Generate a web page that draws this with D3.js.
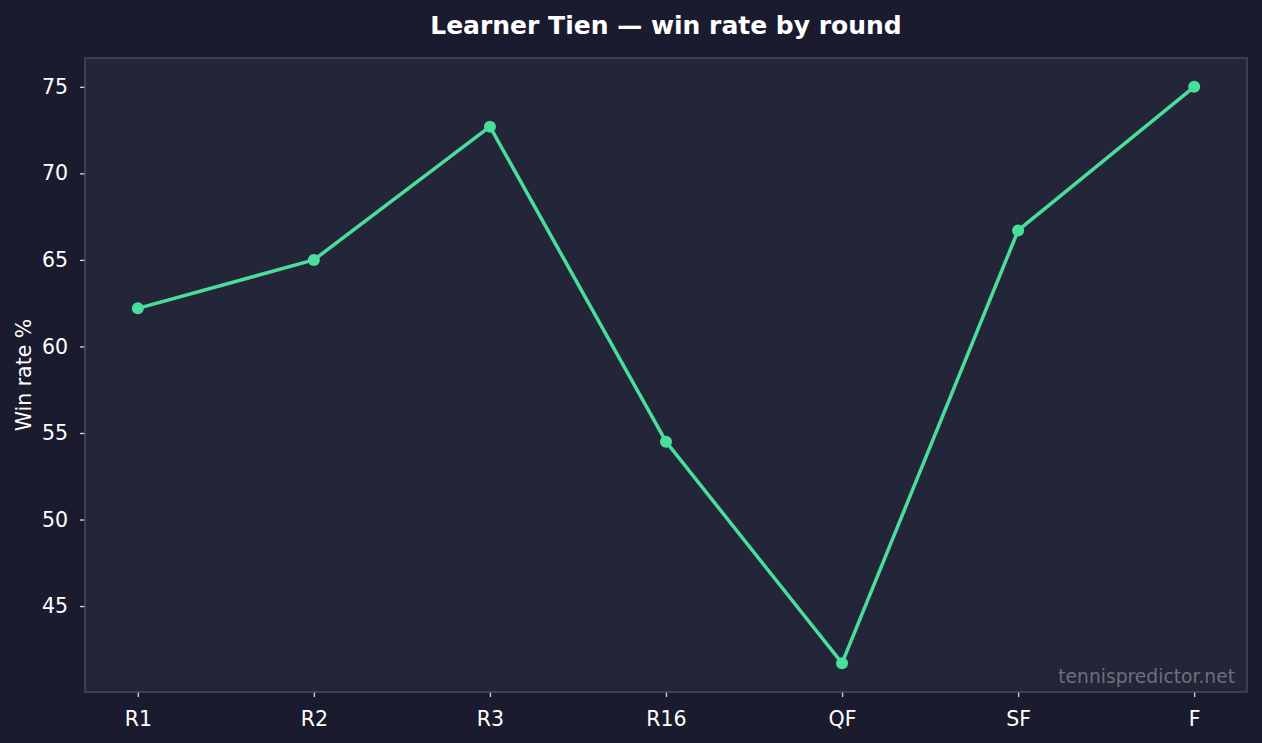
<!DOCTYPE html>
<html>
<head>
<meta charset="utf-8">
<script src="https://cdn.jsdelivr.net/npm/d3@7"></script>
<style>
  html, body { margin: 0; padding: 0; background: #1a1b2e; }
  svg { display: block; font-family: "DejaVu Sans", sans-serif; }
</style>
</head>
<body>
<div id="chart"></div>
<script>
var rounds = ['R1', 'R2', 'R3', 'R16', 'QF', 'SF', 'F'];
var winRate = [62.2, 65.0, 72.7, 54.5, 41.7, 66.7, 75.0];
var yTicks = [45, 50, 55, 60, 65, 70, 75];

var width = 1262, height = 743;
var margin = { top: 58, right: 15, bottom: 51, left: 85 };
var plotW = width - margin.left - margin.right;
var plotH = height - margin.top - margin.bottom;

var svg = d3.select('#chart').append('svg')
  .attr('width', width)
  .attr('height', height);

svg.append('rect')
  .attr('width', width).attr('height', height)
  .attr('fill', '#1a1b2e');

var g = svg.append('g')
  .attr('transform', 'translate(' + margin.left + ',' + margin.top + ')');

// matplotlib-ish 5% margins
var yMin = d3.min(winRate), yMax = d3.max(winRate);
var pad = (yMax - yMin) * 0.05;
var x = d3.scaleLinear().domain([-0.3, rounds.length - 1 + 0.3]).range([0, plotW]);
var y = d3.scaleLinear().domain([yMin - pad, yMax + pad]).range([plotH, 0]);

g.append('rect')
  .attr('width', plotW).attr('height', plotH)
  .attr('fill', '#232538');

var xAxis = g.append('g')
  .attr('transform', 'translate(0,' + plotH + ')')
  .call(d3.axisBottom(x).tickValues(d3.range(rounds.length))
    .tickFormat(function(i) { return rounds[i]; })
    .tickSize(5));

var yAxis = g.append('g')
  .call(d3.axisLeft(y).tickValues(yTicks).tickSize(5).tickPadding(12));

[xAxis, yAxis].forEach(function(a) {
  a.select('.domain').remove();
  a.selectAll('line').attr('stroke', '#d8d8e0').attr('stroke-width', 1.3);
  a.selectAll('text')
    .attr('fill', '#ffffff')
    .attr('font-size', '20.5px')
    .attr('font-family', '"DejaVu Sans", sans-serif');
});
xAxis.selectAll('text').attr('y', 34).attr('dy', 0);

g.append('rect')
  .attr('width', plotW).attr('height', plotH)
  .attr('fill', 'none')
  .attr('stroke', '#4a4a52')
  .attr('stroke-width', 1.5);

var line = d3.line()
  .x(function(d, i) { return x(i); })
  .y(function(d) { return y(d); });

g.append('path')
  .datum(winRate)
  .attr('d', line)
  .attr('fill', 'none')
  .attr('stroke', '#4ade9c')
  .attr('stroke-width', 3.5)
  .attr('stroke-linejoin', 'round');

g.selectAll('circle.pt')
  .data(winRate)
  .enter()
  .append('circle')
  .attr('class', 'pt')
  .attr('cx', function(d, i) { return x(i); })
  .attr('cy', function(d) { return y(d); })
  .attr('r', 6)
  .attr('fill', '#4ade9c');

g.append('text')
  .attr('x', plotW - 12)
  .attr('y', plotH - 9)
  .attr('text-anchor', 'end')
  .attr('fill', '#ffffff')
  .attr('fill-opacity', 0.35)
  .attr('font-size', '18.7px')
  .text('tennispredictor.net');

svg.append('text')
  .attr('transform', 'translate(31,' + (margin.top + plotH / 2) + ') rotate(-90)')
  .attr('text-anchor', 'middle')
  .attr('fill', '#ffffff')
  .attr('font-size', '20.5px')
  .text('Win rate %');

svg.append('text')
  .attr('x', margin.left + plotW / 2)
  .attr('y', 34)
  .attr('text-anchor', 'middle')
  .attr('fill', '#ffffff')
  .attr('font-size', '25px')
  .attr('font-weight', 'bold')
  .text('Learner Tien \u2014 win rate by round');
</script>
</body>
</html>
